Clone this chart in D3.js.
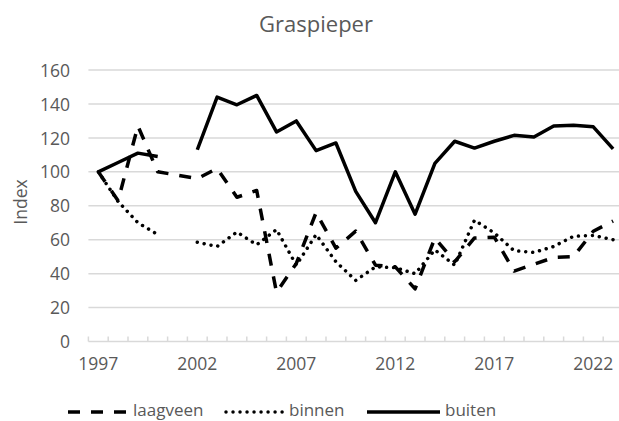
<!DOCTYPE html>
<html>
<head>
<meta charset="utf-8">
<script src="https://cdn.jsdelivr.net/npm/d3@7"></script>
<style>
  html, body { margin: 0; padding: 0; background: #fff; }
  svg { display: block; }
  text { font-family: "Open Sans", sans-serif; fill: #595959; }
</style>
</head>
<body>
<div id="chart"></div>
<script>
// ---- data ----
const years = d3.range(1997, 2024);
const laagveen = [100, 83, 127, 100, 98, 96, 102, 85, 89, 29, 46, 76, 55, 65, 45, 44, 31, 61, 47, 61, 61.5, 41.5, 45.5, 49.5, 50, 65, 71];
const binnen   = [100, 82.5, 70, 63, null, 58.5, 56, 64.5, 57, 66, 45, 63, 47, 36, 44, 43.5, 40, 54, 45, 71.5, 64, 53.5, 52.5, 56, 62, 62.5, 60];
const buiten   = [100, 105.5, 111, 109, null, 113, 144, 139.5, 145, 123.5, 130, 112.5, 117, 88.5, 70, 100, 75, 105, 118, 114, 118, 121.5, 120.5, 127, 127.5, 126.5, 113.5];
const seriesNames = ["laagveen", "binnen", "buiten"];
const yTicks = [0, 20, 40, 60, 80, 100, 120, 140, 160];
const xLabelYears = [1997, 2002, 2007, 2012, 2017, 2022];
const title = "Graspieper";
const yTitle = "Index";

// ---- layout ----
const W = 619, H = 421;
const plotLeft = 88.4, catW = 19.8;
const plotRight = plotLeft + years.length * catW;
const plotTop = 70, plotBottom = 341.5;

const svg = d3.select("#chart").append("svg").attr("width", W).attr("height", H);

const x = d3.scaleBand().domain(years).range([plotLeft, plotRight]).padding(0);
const y = d3.scaleLinear().domain([0, 160]).range([plotBottom, plotTop]);
const cx = yr => x(yr) + x.bandwidth() / 2;

// gridlines
svg.append("g").selectAll("line").data(yTicks.filter(t => t > 0)).join("line")
  .attr("x1", plotLeft).attr("x2", plotRight)
  .attr("y1", d => y(d)).attr("y2", d => y(d))
  .attr("stroke", "#d9d9d9").attr("stroke-width", 1.5);

// x axis line and category boundary ticks
svg.append("line").attr("x1", plotLeft).attr("x2", plotRight)
  .attr("y1", y(0)).attr("y2", y(0)).attr("stroke", "#d9d9d9").attr("stroke-width", 1.5);
const bounds = years.map(v => x(v)).concat([plotRight]);
svg.append("g").selectAll("line").data(bounds).join("line")
  .attr("x1", d => d).attr("x2", d => d)
  .attr("y1", y(0)).attr("y2", y(0) - 5)
  .attr("stroke", "#d9d9d9").attr("stroke-width", 1.5);

// x axis labels
const xAxis = d3.axisBottom(x).tickValues(xLabelYears).tickSize(0).tickPadding(0);
const gx = svg.append("g").attr("transform", `translate(0,${y(0)})`).call(xAxis);
gx.select(".domain").remove();
gx.selectAll("text").attr("dy", null).attr("y", 28)
  .style("font-size", "17.5px").style("font-family", "'Open Sans', sans-serif").attr("fill", "#595959");

// y axis labels
const yAxis = d3.axisLeft(y).tickValues(yTicks).tickSize(0).tickPadding(0);
const gy = svg.append("g").attr("transform", `translate(70,0)`).call(yAxis);
gy.select(".domain").remove();
gy.selectAll("text").attr("x", 0).attr("dy", "0.35em")
  .style("font-size", "17.5px").style("font-family", "'Open Sans', sans-serif").attr("fill", "#595959");

// titles
svg.append("text").attr("x", 316).attr("y", 32).attr("text-anchor", "middle")
  .style("font-size", "22px").text(title);
svg.append("text").attr("transform", `translate(27,202) rotate(-90)`)
  .attr("text-anchor", "middle").style("font-size", "17.5px").text(yTitle);

// series
const styles = {
  laagveen: { dash: "12,11", cap: "butt" },
  binnen:   { dash: "0.01,7", cap: "round" },
  buiten:   { dash: null, cap: "butt" }
};
const data = { laagveen, binnen, buiten };
const line = d3.line()
  .defined(d => d.v != null)
  .x(d => cx(d.yr)).y(d => y(d.v));

seriesNames.forEach(name => {
  const pts = years.map((yr, i) => ({ yr, v: data[name][i] }));
  svg.append("path").datum(pts)
    .attr("d", line)
    .attr("fill", "none").attr("stroke", "#000").attr("stroke-width", 3.5)
    .attr("stroke-linejoin", "round")
    .attr("stroke-linecap", styles[name].cap)
    .attr("stroke-dasharray", styles[name].dash);
});

// legend
const legendItems = [
  { name: "laagveen", x1: 68, x2: 128, tx: 133 },
  { name: "binnen", x1: 226, x2: 283, tx: 289 },
  { name: "buiten", x1: 367, x2: 440, tx: 445 }
];
const lg = svg.append("g");
legendItems.forEach(it => {
  lg.append("line").attr("x1", it.x1).attr("x2", it.x2).attr("y1", 412).attr("y2", 412)
    .attr("stroke", "#000").attr("stroke-width", 3.5)
    .attr("stroke-linecap", styles[it.name].cap)
    .attr("stroke-dasharray", styles[it.name].dash);
  lg.append("text").attr("x", it.tx).attr("y", 416).style("font-size", "17px").text(it.name);
});
</script>
</body>
</html>
